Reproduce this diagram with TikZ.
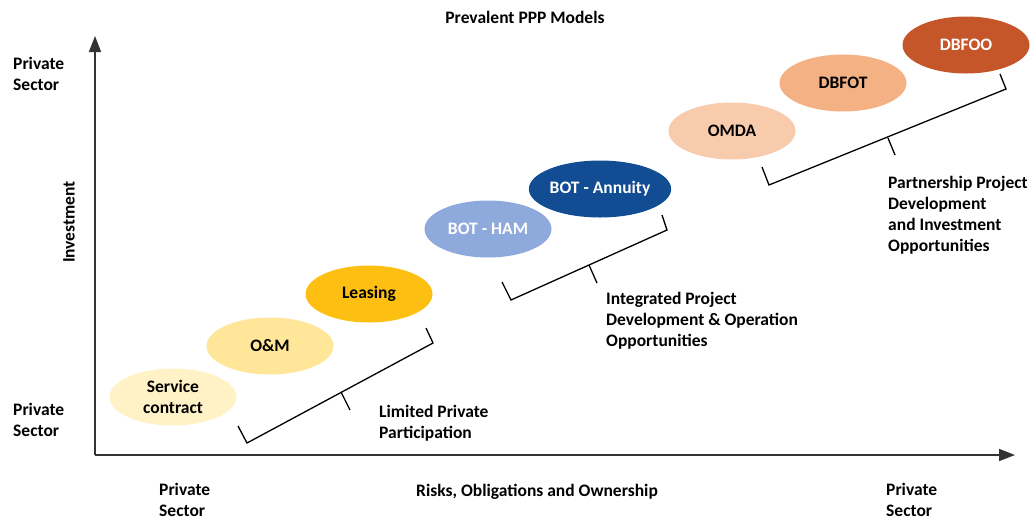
\documentclass[tikz,border=0pt]{standalone}
\usepackage{fontspec}
\setmainfont{Carlito}
\usepackage{tikz}
\usetikzlibrary{arrows.meta,shapes.geometric}

\definecolor{svcfill}{HTML}{FFF2C6}
\definecolor{omfill}{HTML}{FFE699}
\definecolor{leasefill}{HTML}{FDBF12}
\definecolor{hamfill}{HTML}{8EA9DB}
\definecolor{annfill}{HTML}{124C93}
\definecolor{omdafill}{HTML}{F8CBAD}
\definecolor{dbfotfill}{HTML}{F4B183}
\definecolor{dbfoofill}{HTML}{C4562A}

\begin{document}
\begin{tikzpicture}[
    x=1pt, y=-1pt,
    model/.style={
        ellipse, align=center, inner sep=0pt,
        minimum width=127pt, minimum height=57pt,
        font=\fontsize{17.5}{21}\selectfont\bfseries
    },
    lbl/.style={
        align=left, anchor=base west, inner sep=0pt,
        font=\fontsize{17.5}{21}\selectfont\bfseries
    },
    axis/.style={-{Triangle[length=16pt,width=12pt]}, line width=1.6pt, black!80},
    brace/.style={line width=1.3pt}
]
\useasboundingbox (0,0) rectangle (1033,520);

% Axes
\coordinate (origin) at (95,455);
\coordinate (ytop) at (95,36);
\coordinate (xend) at (1015,455);
\draw[axis] (origin) -- (ytop);
\draw[axis] (origin) -- (xend);

% Models
\node[model, fill=svcfill] (svc) at (173,397) {Service\\contract};
\node[model, fill=omfill] (om) at (270,346) {O\&M};
\node[model, fill=leasefill] (lease) at (369,294) {Leasing};
\node[model, fill=hamfill, text=white] (ham) at (488,229) {BOT - HAM};
\node[model, fill=annfill, text=white] (ann) at (600,189) {BOT - Annuity};
\node[model, fill=omdafill] (omda) at (732,131) {OMDA};
\node[model, fill=dbfotfill] (dbfot) at (843,83) {DBFOT};
\node[model, fill=dbfoofill, text=white] (dbfoo) at (966,45) {DBFOO};

% Brackets
\coordinate (lpA) at (238,426);
\coordinate (lpB) at (247,443);
\coordinate (lpC) at (433,343);
\coordinate (lpD) at (426,328);
\coordinate (lpT1) at (341,392);
\coordinate (lpT2) at (350,410);
\draw[brace] (lpA) -- (lpB) -- (lpC) -- (lpD);
\draw[brace] (lpT1) -- (lpT2);

\coordinate (ipA) at (502,282);
\coordinate (ipB) at (511,300);
\coordinate (ipC) at (667,230);
\coordinate (ipD) at (662,215);
\coordinate (ipT1) at (589,265);
\coordinate (ipT2) at (597,283);
\draw[brace] (ipA) -- (ipB) -- (ipC) -- (ipD);
\draw[brace] (ipT1) -- (ipT2);

\coordinate (ppA) at (762,167);
\coordinate (ppB) at (769,185);
\coordinate (ppC) at (1006,89);
\coordinate (ppD) at (1000,74);
\coordinate (ppT1) at (888,138);
\coordinate (ppT2) at (895,155);
\draw[brace] (ppA) -- (ppB) -- (ppC) -- (ppD);
\draw[brace] (ppT1) -- (ppT2);

% Texts (base = last line)
\node[font=\fontsize{17.5}{21}\selectfont\bfseries] (title) at (525,17) {Prevalent PPP Models};
\node[lbl] (ptop) at (13,90) {Private\\Sector};
\node[lbl] (pbot) at (13,436) {Private\\Sector};
\node[font=\fontsize{17.5}{21}\selectfont\bfseries, rotate=90] (inv) at (69,222) {Investment};
\node[lbl] (pxl) at (159,516) {Private\\Sector};
\node[font=\fontsize{17.5}{21}\selectfont\bfseries] (risk) at (537,492) {Risks, Obligations and Ownership};
\node[lbl] (pxr) at (886,516) {Private\\Sector};
\node[lbl] (lim) at (379,438) {Limited Private\\Participation};
\node[lbl] (integ) at (606,346) {Integrated Project\\Development \& Operation\\Opportunities};
\node[lbl] (part) at (888,251) {Partnership Project\\Development\\and Investment\\Opportunities};
\end{tikzpicture}
\end{document}
